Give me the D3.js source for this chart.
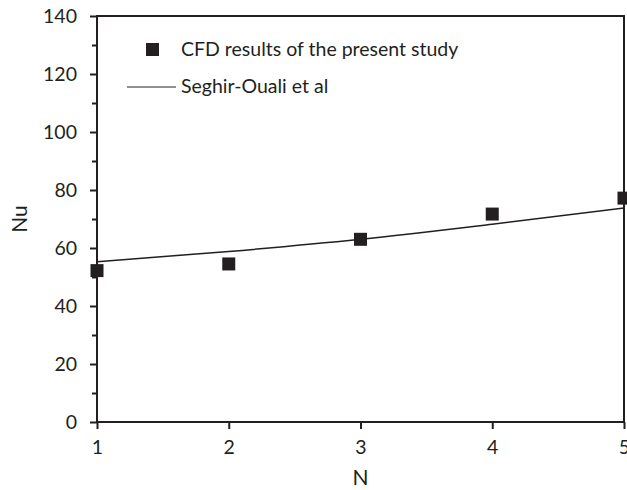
<!DOCTYPE html>
<html>
<head>
<meta charset="utf-8">
<script src="https://cdn.jsdelivr.net/npm/d3@7"></script>
<style>
  body { margin: 0; background: #fff; }
  text { font-family: Lato, "Open Sans", sans-serif; fill: #231f20; }
</style>
</head>
<body>
<div id="chart"></div>
<script>
"use strict"

// values
const cfdN = [1, 2, 3, 4, 5];
const cfdNu = [52.2, 54.5, 63.0, 71.7, 77.2];
const corrN = [1, 2, 3, 4, 5];
const corrNu = [55.3, 58.8, 63.0, 68.2, 73.8];
const xTicks = [1, 2, 3, 4, 5];
const yTicks = [0, 20, 40, 60, 80, 100, 120, 140];
const yMinorTicks = [10, 30, 50, 70, 90, 110, 130];
const legendLabels = ["CFD results of the present study", "Seghir-Ouali et al"];

window.addEventListener("load", drawChart);

function drawChart() {
  let width = 627, height = 490;
  let margin = {left: 97, right: 3, top: 16, bottom: 68};
  let ink = "#231f20";
  let fontSize = "19.5px";

  let svg = d3.select("#chart").append("svg")
    .attr("width", width)
    .attr("height", height);

  let x = d3.scaleLinear().domain([1, 5]).range([margin.left, width - margin.right]);
  let y = d3.scaleLinear().domain([0, 140]).range([height - margin.bottom, margin.top]);

  // minor y ticks
  svg.append("g")
    .attr("transform", `translate(${margin.left},0)`)
    .call(d3.axisLeft(y).tickValues(yMinorTicks).tickSize(5).tickFormat(""))
    .call(g => g.select(".domain").remove())
    .call(g => g.selectAll("line").attr("stroke", ink).attr("stroke-width", 2));

  // major y axis
  svg.append("g")
    .attr("transform", `translate(${margin.left},0)`)
    .call(d3.axisLeft(y).tickValues(yTicks).tickSize(7).tickPadding(13).tickFormat(d3.format("d")))
    .call(g => g.select(".domain").remove())
    .call(g => g.selectAll("line").attr("stroke", ink).attr("stroke-width", 2))
    .call(g => g.selectAll("text").style("font-size", fontSize).attr("fill", ink));

  // x axis
  svg.append("g")
    .attr("transform", `translate(0,${y(0)})`)
    .call(d3.axisBottom(x).tickValues(xTicks).tickSize(7).tickPadding(11).tickFormat(d3.format("d")))
    .call(g => g.select(".domain").remove())
    .call(g => g.selectAll("line").attr("stroke", ink).attr("stroke-width", 2))
    .call(g => g.selectAll("text").style("font-size", fontSize).attr("fill", ink));

  // frame
  svg.append("rect")
    .attr("x", x(1))
    .attr("y", y(140))
    .attr("width", x(5) - x(1))
    .attr("height", y(0) - y(140))
    .attr("fill", "none")
    .attr("stroke", ink)
    .attr("stroke-width", 2);

  // correlation line
  let line = d3.line()
    .x(d => x(d[0]))
    .y(d => y(d[1]))
    .curve(d3.curveMonotoneX);

  svg.append("path")
    .datum(corrN.map((n, i) => [n, corrNu[i]]))
    .attr("d", line)
    .attr("fill", "none")
    .attr("stroke", ink)
    .attr("stroke-width", 1.5);

  // CFD markers
  let size = 13;
  svg.selectAll("rect.cfd")
    .data(cfdN.map((n, i) => [n, cfdNu[i]]))
    .enter()
    .append("rect")
      .attr("class", "cfd")
      .attr("x", d => x(d[0]) - size / 2)
      .attr("y", d => y(d[1]) - size / 2)
      .attr("width", size)
      .attr("height", size)
      .attr("fill", ink);

  // legend
  let legend = svg.append("g");
  legend.append("rect")
    .attr("x", 146).attr("y", 43)
    .attr("width", 13).attr("height", 13)
    .attr("fill", ink);
  legend.append("text")
    .attr("x", 181).attr("y", 56)
    .style("font-size", fontSize)
    .text(legendLabels[0]);
  legend.append("line")
    .attr("x1", 127).attr("x2", 176)
    .attr("y1", 87).attr("y2", 87)
    .attr("stroke", ink)
    .attr("stroke-width", 1.2);
  legend.append("text")
    .attr("x", 181).attr("y", 93)
    .style("font-size", fontSize)
    .text(legendLabels[1]);

  // axis titles
  svg.append("text")
    .attr("x", x(3))
    .attr("y", 485)
    .attr("text-anchor", "middle")
    .style("font-size", "21px")
    .text("N");

  svg.append("text")
    .attr("transform", `translate(27,${y(70)}) rotate(-90)`)
    .attr("text-anchor", "middle")
    .style("font-size", "21px")
    .text("Nu");
}
</script>
</body>
</html>
